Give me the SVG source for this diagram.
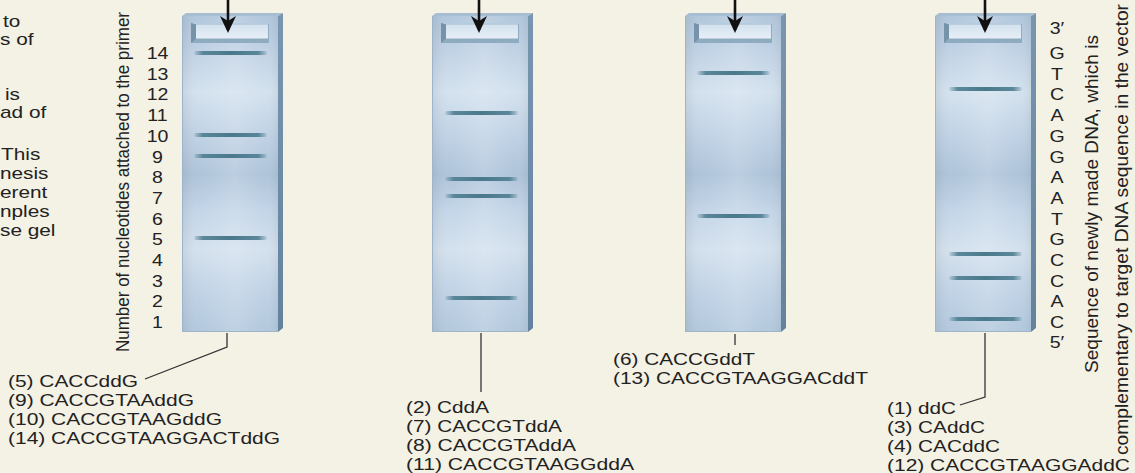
<svg xmlns="http://www.w3.org/2000/svg" width="1135" height="473" viewBox="0 0 1135 473">
<style>
text { font-family: "Liberation Sans", Arial, Helvetica, sans-serif; fill: #222; }
.t { font-size: 17px; }
.vl { font-size: 17px; }
.vr { font-size: 19px; }
.conn { stroke: #333; stroke-width: 1.3; fill: none; }
.arrow { stroke: #111; stroke-width: 2.6; fill: none; }
.band { fill: url(#bandGrad); }
</style>
<defs>
<linearGradient id="frontGrad" x1="0" y1="0" x2="0" y2="1">
<stop offset="0" stop-color="#b2c7dc"/>
<stop offset="0.1" stop-color="#bfd1e4"/>
<stop offset="0.24" stop-color="#d4e2ef"/>
<stop offset="0.38" stop-color="#c0d2e5"/>
<stop offset="0.5" stop-color="#afc4da"/>
<stop offset="0.62" stop-color="#c4d6e8"/>
<stop offset="0.74" stop-color="#d4e1ee"/>
<stop offset="0.87" stop-color="#c1d3e6"/>
<stop offset="1" stop-color="#b3c8dd"/>
</linearGradient>
<linearGradient id="frontH" x1="0" y1="0" x2="1" y2="0">
<stop offset="0" stop-color="#000" stop-opacity="0.07"/>
<stop offset="0.2" stop-color="#fff" stop-opacity="0"/>
<stop offset="0.55" stop-color="#fff" stop-opacity="0.16"/>
<stop offset="0.85" stop-color="#fff" stop-opacity="0"/>
<stop offset="1" stop-color="#000" stop-opacity="0.05"/>
</linearGradient>
<linearGradient id="sideGrad" x1="0" y1="0" x2="0" y2="1">
<stop offset="0" stop-color="#7896b0"/>
<stop offset="1" stop-color="#62829d"/>
</linearGradient>
<linearGradient id="wellGrad" x1="0" y1="0" x2="0" y2="1">
<stop offset="0" stop-color="#d3e1ee"/>
<stop offset="1" stop-color="#e7eff7"/>
</linearGradient>
<linearGradient id="bandGrad" x1="0" y1="0" x2="1" y2="0">
<stop offset="0" stop-color="#4e7d90" stop-opacity="0.15"/>
<stop offset="0.12" stop-color="#4e7d90" stop-opacity="0.9"/>
<stop offset="0.5" stop-color="#4a798c" stop-opacity="1"/>
<stop offset="0.88" stop-color="#4e7d90" stop-opacity="0.9"/>
<stop offset="1" stop-color="#4e7d90" stop-opacity="0.15"/>
</linearGradient>
<marker id="ah" markerUnits="userSpaceOnUse" markerWidth="18" markerHeight="18" viewBox="0 0 18 18" refX="14" refY="9" orient="auto">
<path d="M17,9 L0,1 L5,9 L0,17 Z" fill="#111"/>
</marker>
<g id="gelBody">
<rect x="0" y="16" width="96" height="316" fill="url(#frontGrad)"/>
<rect x="0" y="16" width="96" height="316" fill="url(#frontH)"/>
<polygon points="0,16 4,13 101,13 96,16" fill="#a7bdd2"/>
<polygon points="96,16 101,13 101,328 96,332" fill="url(#sideGrad)"/>
<line x1="0.5" y1="16" x2="0.5" y2="332" stroke="#9db4ca" stroke-width="1"/>
<line x1="0" y1="331.5" x2="96" y2="331.5" stroke="#9fb5cb" stroke-width="1"/>
<rect x="9" y="23" width="78" height="20" fill="#8eabc0"/>
<polygon points="9,23 87,23 86,24.5 14,24.5" fill="#b7cbdf"/>
<polygon points="9,23 14,24.5 14,38.5 9,43" fill="#7793aa"/>
<rect x="14" y="24.5" width="72" height="14" fill="url(#wellGrad)"/>
</g>
</defs>

<rect x="0" y="0" width="1135" height="473" fill="#f4f1e5"/>

<g id="side-text" class="t">
<text x="3" y="27" textLength="17.3" lengthAdjust="spacingAndGlyphs">to</text>
<text x="0" y="45" textLength="33.5" lengthAdjust="spacingAndGlyphs">s of</text>
<text x="5" y="100" textLength="15" lengthAdjust="spacingAndGlyphs">is</text>
<text x="0" y="118" textLength="46.3" lengthAdjust="spacingAndGlyphs">ad of</text>
<text x="1" y="160" textLength="39.3" lengthAdjust="spacingAndGlyphs">This</text>
<text x="0" y="179" textLength="48.5" lengthAdjust="spacingAndGlyphs">nesis</text>
<text x="0" y="198" textLength="47.4" lengthAdjust="spacingAndGlyphs">erent</text>
<text x="0" y="217" textLength="49.7" lengthAdjust="spacingAndGlyphs">nples</text>
<text x="0" y="236" textLength="55.5" lengthAdjust="spacingAndGlyphs">se gel</text>
</g>

<g id="axis-label">
<text class="vl" transform="translate(129,352) scale(1.1,1) rotate(-90)" textLength="340" lengthAdjust="spacingAndGlyphs">Number of nucleotides attached to the primer</text>
</g>

<g id="axis-numbers" class="t" transform="translate(157.5,0) scale(1.15,1)" text-anchor="middle">
<text x="0" y="59.1">14</text>
<text x="0" y="79.8">13</text>
<text x="0" y="100.5">12</text>
<text x="0" y="121.2">11</text>
<text x="0" y="141.9">10</text>
<text x="0" y="162.6">9</text>
<text x="0" y="183.3">8</text>
<text x="0" y="204">7</text>
<text x="0" y="224.7">6</text>
<text x="0" y="245.3">5</text>
<text x="0" y="266">4</text>
<text x="0" y="286.7">3</text>
<text x="0" y="307.4">2</text>
<text x="0" y="328.1">1</text>
</g>

<g id="gel-G" transform="translate(182,0)">
<use href="#gelBody"/>
<rect class="band" x="12" y="51" width="73" height="4" rx="2"/>
<rect class="band" x="12" y="133" width="73" height="4" rx="2"/>
<rect class="band" x="12" y="154" width="73" height="4" rx="2"/>
<rect class="band" x="12" y="236" width="73" height="4" rx="2"/>
</g>

<g id="gel-A" transform="translate(432,0)">
<use href="#gelBody"/>
<rect class="band" x="13" y="111" width="73" height="4" rx="2"/>
<rect class="band" x="13" y="177" width="73" height="4" rx="2"/>
<rect class="band" x="13" y="194" width="73" height="4" rx="2"/>
<rect class="band" x="13" y="296" width="73" height="4" rx="2"/>
</g>

<g id="gel-T" transform="translate(685,0)">
<use href="#gelBody"/>
<rect class="band" x="12" y="71" width="73" height="4" rx="2"/>
<rect class="band" x="12" y="214" width="73" height="4" rx="2"/>
</g>

<g id="gel-C" transform="translate(935,0)">
<use href="#gelBody"/>
<rect class="band" x="14" y="87" width="73" height="4" rx="2"/>
<rect class="band" x="14" y="252" width="73" height="4" rx="2"/>
<rect class="band" x="14" y="276" width="73" height="4" rx="2"/>
<rect class="band" x="14" y="317" width="73" height="4" rx="2"/>
</g>

<g id="connectors">
<line class="arrow" x1="228" y1="0" x2="228" y2="30" marker-end="url(#ah)"/>
<line class="arrow" x1="479" y1="0" x2="479" y2="30" marker-end="url(#ah)"/>
<line class="arrow" x1="735" y1="0" x2="735" y2="30" marker-end="url(#ah)"/>
<line class="arrow" x1="985" y1="0" x2="985" y2="30" marker-end="url(#ah)"/>
<polyline class="conn" points="227,333 227,347 145,379"/>
<line class="conn" x1="481" y1="333" x2="481" y2="392"/>
<line class="conn" x1="735" y1="334" x2="735" y2="345"/>
<polyline class="conn" points="985,333 985,397 960,405"/>
</g>

<g id="labels-G" class="t">
<text x="8" y="387" textLength="130" lengthAdjust="spacingAndGlyphs">(5) CACCddG</text>
<text x="8" y="406" textLength="186" lengthAdjust="spacingAndGlyphs">(9) CACCGTAAddG</text>
<text x="8" y="425" textLength="214" lengthAdjust="spacingAndGlyphs">(10) CACCGTAAGddG</text>
<text x="8" y="444" textLength="272" lengthAdjust="spacingAndGlyphs">(14) CACCGTAAGGACTddG</text>
</g>

<g id="labels-A" class="t">
<text x="406" y="413" textLength="83" lengthAdjust="spacingAndGlyphs">(2) CddA</text>
<text x="406" y="432" textLength="156" lengthAdjust="spacingAndGlyphs">(7) CACCGTddA</text>
<text x="406" y="451" textLength="170" lengthAdjust="spacingAndGlyphs">(8) CACCGTAddA</text>
<text x="406" y="470" textLength="228" lengthAdjust="spacingAndGlyphs">(11) CACCGTAAGGddA</text>
</g>

<g id="labels-T" class="t">
<text x="613" y="365" textLength="142" lengthAdjust="spacingAndGlyphs">(6) CACCGddT</text>
<text x="613" y="384" textLength="255" lengthAdjust="spacingAndGlyphs">(13) CACCGTAAGGACddT</text>
</g>

<g id="labels-C" class="t">
<text x="887" y="414" textLength="69" lengthAdjust="spacingAndGlyphs">(1) ddC</text>
<text x="887" y="433" textLength="98" lengthAdjust="spacingAndGlyphs">(3) CAddC</text>
<text x="887" y="452" textLength="113" lengthAdjust="spacingAndGlyphs">(4) CACddC</text>
<text x="887" y="471" textLength="243" lengthAdjust="spacingAndGlyphs">(12) CACCGTAAGGAddC</text>
</g>

<g id="sequence" class="t" transform="translate(1057,0) scale(1.15,1)" text-anchor="middle">
<text x="0" y="33.6">3′</text>
<text x="0" y="59.1">G</text>
<text x="0" y="79.8">T</text>
<text x="0" y="100.5">C</text>
<text x="0" y="121.2">A</text>
<text x="0" y="141.9">G</text>
<text x="0" y="162.6">G</text>
<text x="0" y="183.3">A</text>
<text x="0" y="204">A</text>
<text x="0" y="224.7">T</text>
<text x="0" y="245.3">G</text>
<text x="0" y="266">C</text>
<text x="0" y="286.7">C</text>
<text x="0" y="307.4">A</text>
<text x="0" y="328.1">C</text>
<text x="0" y="348">5′</text>
</g>

<g id="sequence-label">
<text class="vr" transform="translate(1098,373) rotate(-90)" textLength="338" lengthAdjust="spacingAndGlyphs">Sequence of newly made DNA, which is</text>
<text class="vr" transform="translate(1128,455) rotate(-90)" textLength="451" lengthAdjust="spacingAndGlyphs">complementary to target DNA sequence in the vector</text>
</g>
</svg>
